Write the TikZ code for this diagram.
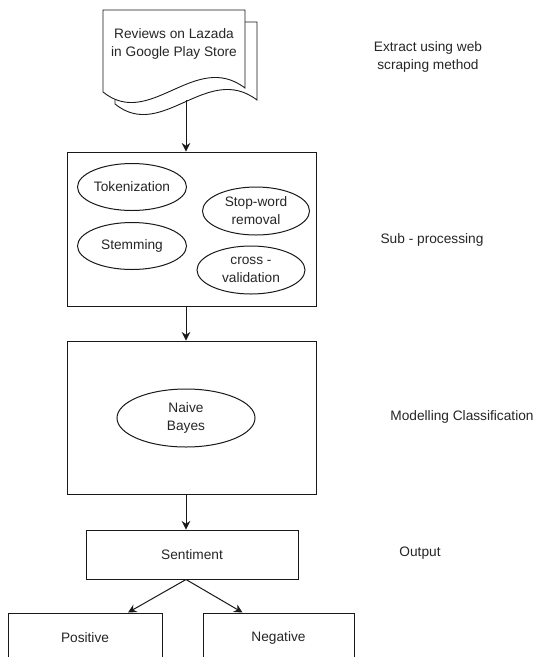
\documentclass[tikz,border=0pt]{standalone}
\usepackage{fontspec}
\setmainfont{Liberation Sans}
\usetikzlibrary{shapes.geometric,arrows.meta}
\colorlet{ink}{black!90}
\colorlet{txt}{black!85}
\tikzset{
    box/.style={draw=ink,line width=1pt,rectangle,inner sep=0pt,text=txt},
    oval/.style={draw=ink,line width=1pt,ellipse,inner sep=0pt,text=txt,align=center},
    note/.style={text=txt,align=center,inner sep=0pt},
    flow/.style={draw=ink,line width=1pt,-{Stealth[length=8.5pt,width=8.5pt]}}
}

\begin{document}
\begin{tikzpicture}[x=1pt,y=-1pt,font=\fontsize{13.7}{18}\selectfont]
        \clip (0,0) rectangle (537,657);
        \fill [white] (0,0) rectangle (537,657);
        \foreach \d in {12,0} {
            \filldraw [fill=white,draw=ink,line width=0.9pt,shift={(\d,\d)}] (103,10)
                -- (245,10)
                -- (245,88)
                .. controls (195,50) and (150,130) .. (103,92)
                -- cycle;
        }
        \node [note] (doc) at (174,44) {Reviews on Lazada\\in Google Play Store};
        \coordinate (docout) at (186,100);
        \node [box,minimum width=249,minimum height=154] (sub) at (191.5,229) {};
        \node [oval,minimum width=109,minimum height=47] (tok) at (132,187) {Tokenization};
        \node [oval,minimum width=109,minimum height=47] (stem) at (132,246) {Stemming};
        \node [oval,minimum width=107,minimum height=48] (stop) at (256,211) {Stop-word\\removal};
        \node [oval,minimum width=108,minimum height=48] (cross) at (251,270) {cross -\\validation};
        \node [box,minimum width=249,minimum height=153] (model) at (191.5,417.5) {};
        \node [oval,minimum width=138,minimum height=58] (naive) at (186,418) {Naive\\Bayes};
        \node [box,minimum width=212,minimum height=49] (sent) at (192,554.5) {Sentiment};
        \node [box,minimum width=154,minimum height=50] (pos) at (85,638) {Positive};
        \node [box,minimum width=151,minimum height=50] (neg) at (278.5,638) {Negative};
        \node [note] (extract) at (428,57) {Extract using web\\scraping method};
        \node [note] (subl) at (432,240) {Sub - processing};
        \node [note] (modl) at (462,417) {Modelling Classification};
        \node [note] (outl) at (420,553) {Output};
        \draw [flow] (docout) -- (sub.north -| docout);
        \draw [flow] (sub.south -| naive) -- (model.north -| naive);
        \draw [flow] (model.south -| naive) -- (sent.north -| naive);
        \draw [flow] (sent.south -| naive) -- ([xshift=43]pos.north);
        \draw [flow] (sent.south -| naive) -- ([xshift=-36]neg.north);
    \end{tikzpicture}
\end{document}
